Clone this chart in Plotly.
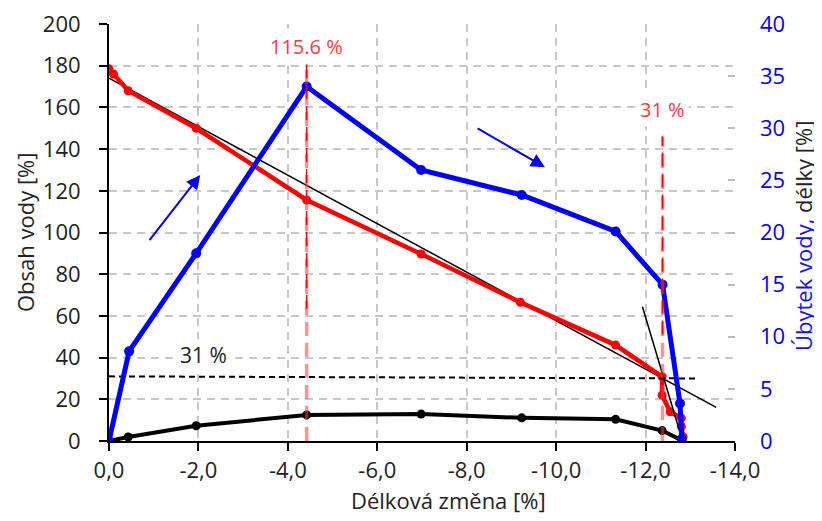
import plotly.graph_objects as go

# ---- data ----
x_ticks = [0, -2, -4, -6, -8, -10, -12, -14]
x_ticktext = ["0,0", "-2,0", "-4,0", "-6,0", "-8,0", "-10,0", "-12,0", "-14,0"]

# Obsah vody [%] (left axis, red)
x_red = [0, -0.1, -0.43, -1.95, -4.42, -6.98, -9.2, -11.33, -12.37, -12.37, -12.55, -12.8, -12.8, -12.84]
y_red = [178.5, 176, 168, 150, 115.6, 89.7, 66.5, 46, 30.8, 22, 14, 11, 7, 2]

# Úbytek vody (right axis, blue)
x_blue = [0, -0.45, -1.95, -4.42, -6.98, -9.23, -11.33, -12.38, -12.77, -12.81]
y_blue = [0, 8.6, 18.0, 34.0, 26.0, 23.6, 20.1, 15.0, 3.6, 0.2]

# Délky (left axis, black)
x_black = [0, -0.43, -1.95, -4.42, -6.98, -9.23, -11.33, -12.37, -12.81]
y_black = [0, 1.9, 7.3, 12.5, 12.9, 11.1, 10.4, 5.0, 0.3]

# thin trend lines
trend1_x = [0, -13.58]
trend1_y = [174, 16.1]
trend2_x = [-11.93, -12.81]
trend2_y = [64.4, 1.2]

# 31 % horizontal level
level_x = [0, -13.15]
level_y = [31, 30]

# vertical markers
v1_x, v1_top, v1_label = -4.42, 181, "115.6 %"
v2_x, v2_top, v2_label = -12.38, 146, "31 %"

# arrows (tail -> head)
arrow1 = dict(tail=(-0.88, 95.6), head=(-2.04, 127.6))
arrow2 = dict(tail=(-8.21, 150.3), head=(-9.75, 131.3))

FONT = "Open Sans"
RED = "#ff0000"
BLUE = "#0000ff"
TXT = "#222222"

# page offset (browser body margin) and plot-area edges as seen in the screenshot
OFF = 8
PL, PR, PT, PB = 109, 735, 24, 441
W, H = 822, 521


def to_paper(px, py):
    return (px - PL) / (PR - PL), (PB - py) / (PB - PT)


fig = go.Figure()

fig.add_trace(go.Scatter(x=trend1_x, y=trend1_y, mode="lines",
                         line=dict(color="black", width=1.5), showlegend=False))
fig.add_trace(go.Scatter(x=x_red, y=y_red, mode="lines+markers",
                         line=dict(color=RED, width=4.5), marker=dict(size=9, color=RED),
                         showlegend=False))
fig.add_trace(go.Scatter(x=x_black, y=y_black, mode="lines+markers",
                         line=dict(color="black", width=4), marker=dict(size=9, color="black"),
                         showlegend=False))
fig.add_trace(go.Scatter(x=level_x, y=level_y, mode="lines",
                         line=dict(color="black", width=2, dash="6px,4px"), showlegend=False))
fig.add_trace(go.Scatter(x=x_blue, y=y_blue, mode="lines+markers", yaxis="y2",
                         line=dict(color=BLUE, width=5), marker=dict(size=10, color=BLUE),
                         showlegend=False))
fig.add_trace(go.Scatter(x=trend2_x, y=trend2_y, mode="lines",
                         line=dict(color="black", width=1.5), showlegend=False))

# vertical dashed red lines
for vx, vtop in [(v1_x, v1_top), (v2_x, v2_top)]:
    fig.add_shape(type="line", x0=vx, x1=vx, y0=0, y1=vtop, xref="x", yref="y",
                  line=dict(color="rgba(255,60,60,0.55)", width=3.5, dash="14px,7px"))
    fig.add_shape(type="line", x0=vx, x1=vx, y0=vtop * 0.35, y1=vtop, xref="x", yref="y",
                  line=dict(color=RED, width=1.5, dash="14px,7px"))

# labels
fig.add_annotation(x=v1_x, y=189.4, text=v1_label, showarrow=False,
                   font=dict(family=FONT, size=20, color="#ff3b3b"),
                   bgcolor="white", borderpad=4)
fig.add_annotation(x=v2_x, y=158.8, text=v2_label, showarrow=False,
                   font=dict(family=FONT, size=20, color="#ff3b3b"),
                   bgcolor="white", borderpad=3)
fig.add_annotation(x=-2.11, y=41.2, text="31 %", showarrow=False,
                   font=dict(family=FONT, size=21, color=TXT),
                   bgcolor="white", borderpad=1)

for a in (arrow1, arrow2):
    fig.add_annotation(x=a["head"][0], y=a["head"][1], ax=a["tail"][0], ay=a["tail"][1],
                       xref="x", yref="y", axref="x", ayref="y", text="",
                       showarrow=True, arrowhead=2, arrowsize=1.4, arrowwidth=2,
                       arrowcolor=BLUE)

# axis titles (placed as annotations at the reference's pixel positions)
xt = to_paper(448, 500)
fig.add_annotation(x=xt[0], y=xt[1], xref="paper", yref="paper",
                   text="Délková změna [%]", showarrow=False,
                   font=dict(family=FONT, size=22, color=TXT),
                   xanchor="center", yanchor="middle")
lt = to_paper(25, 232)
fig.add_annotation(x=lt[0], y=lt[1], xref="paper", yref="paper",
                   text="Obsah vody [%]", showarrow=False, textangle=-90,
                   font=dict(family=FONT, size=22, color=TXT),
                   xanchor="center", yanchor="middle")
rt = to_paper(803, 236)
fig.add_annotation(x=rt[0], y=rt[1], xref="paper", yref="paper",
                   text='<span style="color:#1010ff">Úbytek vody,</span> délky [%]',
                   showarrow=False, textangle=-90,
                   font=dict(family=FONT, size=22, color=TXT),
                   xanchor="center", yanchor="middle")

grid = dict(gridcolor="#c8c8c8", gridwidth=1.5, griddash="8px,6px")

fig.update_layout(
    width=W, height=H,
    margin=dict(l=PL - OFF, r=W - (PR - OFF), t=PT - OFF, b=H - (PB - OFF), pad=0),
    paper_bgcolor="white", plot_bgcolor="white",
    font=dict(family=FONT, size=22, color=TXT),
    showlegend=False,
    xaxis=dict(range=[0, -14], tickvals=x_ticks, ticktext=x_ticktext, automargin=False,
               showline=True, linecolor="black", linewidth=2,
               ticks="outside", ticklen=8, tickwidth=2, tickcolor="black",
               ticklabelstandoff=1, ticklabeloverflow="allow",
               zeroline=False, showgrid=True, **grid,
               tickfont=dict(family=FONT, size=22, color=TXT)),
    yaxis=dict(range=[0, 200], dtick=20, showline=True, linecolor="black", linewidth=2,
               automargin=False, ticklabeloverflow="allow",
               ticks="outside", ticklen=8, tickwidth=2, tickcolor="black",
               ticklabelstandoff=14, zeroline=False, showgrid=True, **grid,
               tickfont=dict(family=FONT, size=22, color=TXT)),
    yaxis2=dict(range=[0, 40], dtick=5, overlaying="y", side="right", automargin=False,
                ticklabeloverflow="allow",
                showline=False, showgrid=False, zeroline=False,
                ticks="inside", ticklen=7, tickwidth=1.5, tickcolor="#bbbbbb",
                ticklabelstandoff=24,
                tickfont=dict(family=FONT, size=22, color=BLUE)),
)

fig.write_html("out.html")
